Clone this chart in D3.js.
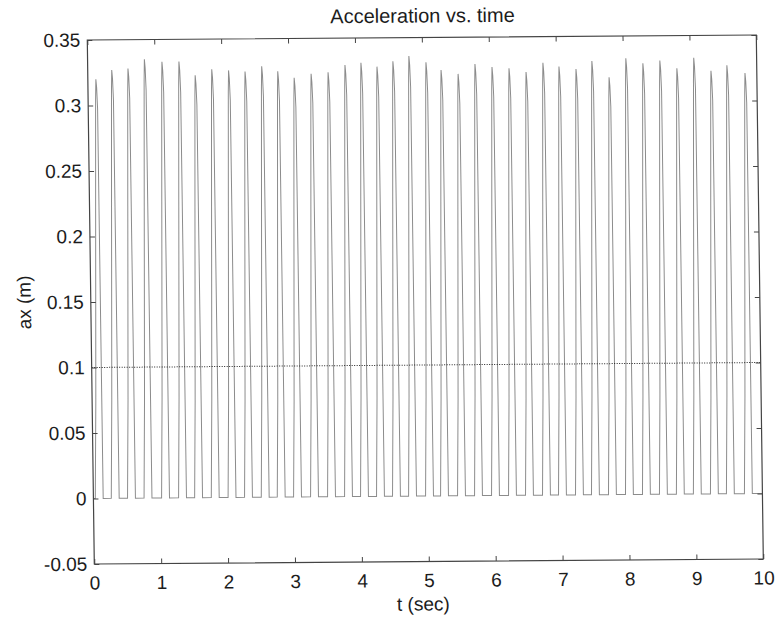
<!DOCTYPE html>
<html><head><meta charset="utf-8">
<script src="https://cdn.jsdelivr.net/npm/d3@7"></script>
<style>body{margin:0;background:#fff}svg{display:block}text{font-family:"Liberation Sans",Arial,sans-serif;fill:#1c1c1c}</style>
</head><body><svg id="c" width="775" height="623"></svg>
<script>
// peak times (s) of each pulse
const pulseTimes = [0.120,0.359,0.602,0.849,1.111,1.365,1.605,1.854,2.105,2.351,2.601,2.840,3.084,3.338,3.592,3.846,4.085,4.324,4.563,4.803,5.057,5.281,5.535,5.789,6.043,6.297,6.551,6.805,7.044,7.298,7.537,7.791,8.045,8.299,8.553,8.806,9.060,9.315,9.554,9.823];
// peak acceleration of each pulse
const pulsePeaks = [0.320,0.327,0.328,0.335,0.333,0.333,0.3225,0.327,0.326,0.325,0.329,0.325,0.320,0.323,0.324,0.3295,0.331,0.328,0.332,0.336,0.331,0.325,0.322,0.3295,0.327,0.326,0.323,0.330,0.327,0.325,0.331,0.3185,0.333,0.329,0.331,0.325,0.333,0.323,0.327,0.321];
// pulse profile: time offset from the peak and fraction of the peak
const profileDt   = [-0.092,-0.065,-0.030,-0.008,0,0.010,0.020,0.024,0.026];
const profileFrac = [0,0.23,0.68,0.95,1,0.98,0.93,0.30,0];
const threshold = 0.1;
const tStart = 0, tEnd = 10;
const xTicks = [0,1,2,3,4,5,6,7,8,9,10];
const yTicks = [-0.05,0,0.05,0.1,0.15,0.2,0.25,0.3,0.35];
const yTickLabels = ["-0.05","0","0.05","0.1","0.15","0.2","0.25","0.3","0.35"];

const W = 669, H = 524;
const svg = d3.select("#c");
const g = svg.append("g").attr("transform","matrix(1,-0.00747,0.01336,1,87.3,40)");
const x = d3.scaleLinear().domain([0,10]).range([0,W]);
const y = d3.scaleLinear().domain([-0.05,0.35]).range([H,0]);

// build series
const pts = [[tStart,0]];
pulseTimes.forEach((tp,i)=>{
  profileDt.forEach((dt,j)=>pts.push([tp+dt, pulsePeaks[i]*profileFrac[j]]));
});
pts.push([tEnd,0]);

g.append("path").datum(pts)
  .attr("d", d3.line().x(d=>x(d[0])).y(d=>y(d[1])))
  .attr("fill","none").attr("stroke","#8c8c8c").attr("stroke-width",1);

g.append("line").attr("x1",x(0)).attr("x2",x(10)).attr("y1",y(threshold)).attr("y2",y(threshold))
  .attr("stroke","#222").attr("stroke-width",1).attr("stroke-dasharray","1,1.5");

const fs = "19px";
const axB = g.append("g").attr("transform",`translate(0,${H})`)
  .call(d3.axisBottom(x).tickValues(xTicks).tickFormat(d3.format("d")).tickSizeInner(-5).tickSizeOuter(0).tickPadding(12));
const axT = g.append("g")
  .call(d3.axisTop(x).tickValues(xTicks).tickFormat("").tickSizeInner(-5).tickSizeOuter(0));
const axL = g.append("g")
  .call(d3.axisLeft(y).tickValues(yTicks).tickFormat((d,i)=>yTickLabels[i]).tickSizeInner(-5).tickSizeOuter(0).tickPadding(7));
const axR = g.append("g").attr("transform",`translate(${W},0)`)
  .call(d3.axisRight(y).tickValues(yTicks).tickFormat("").tickSizeInner(-5).tickSizeOuter(0));
[axB,axT,axL,axR].forEach(a=>{
  a.select(".domain").remove();
  a.selectAll("line").attr("stroke","#444");
  a.selectAll("text").style("font-size",fs).attr("fill","#1c1c1c");
});
g.append("rect").attr("x",0).attr("y",0).attr("width",W).attr("height",H)
  .attr("fill","none").attr("stroke","#444").attr("stroke-width",1.2);

g.append("text").attr("x",W/2 + 1).attr("y",-15).attr("text-anchor","middle").style("font-size","20px").text("Acceleration vs. time");
g.append("text").attr("x",W/2 - 6).attr("y",H+49).attr("text-anchor","middle").style("font-size","19px").text("t (sec)");
g.append("text").attr("transform",`translate(-60,${H/2}) rotate(-90)`).attr("text-anchor","middle").style("font-size","19px").text("ax (m)");
</script></body></html>
